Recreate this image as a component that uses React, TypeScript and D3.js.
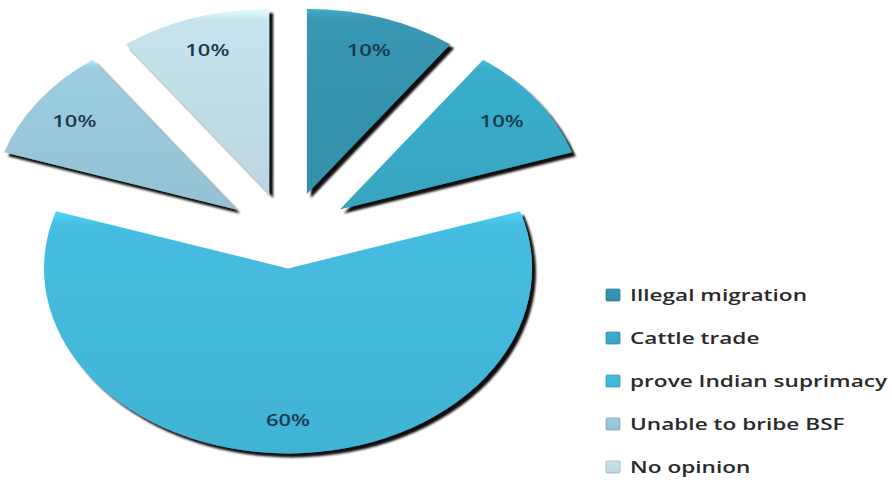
import React from "react";
import * as d3 from "d3";

const categories = ["Illegal migration", "Cattle trade", "prove Indian suprimacy", "Unable to bribe BSF", "No opinion"];
const values = [10, 10, 60, 10, 10];
const labels = ["10%", "10%", "60%", "10%", "10%"];
const colors = ["#3797b3", "#3aaecb", "#45bde0", "#9ccde0", "#c6e3ee"];
const explode = [61, 64, 40, 64, 61];

const W = 892;
const H = 484;
const cx = 288;
const cy = 238;
const rx = 244;
const ry = 185;
const squash = 0.76;
const stretch = 1.33;

export default function App() {
  const pie = d3.pie<number>().sort(null).value((d) => d)(values);
  const arc = d3.arc<d3.PieArcDatum<number>>().innerRadius(0).outerRadius(ry);
  const legendY = d3.scalePoint<string>().domain(categories).range([295, 467]);

  return (
    <svg width={W} height={H} style={{ position: "absolute", left: 0, top: 0, background: "#fff" }}>
      <defs>
        <filter id="shadow" x="-10%" y="-10%" width="125%" height="125%">
          <feOffset in="SourceAlpha" dx="4" dy="4" result="off" />
          <feGaussianBlur in="off" stdDeviation="1.3" result="blur" />
          <feFlood floodColor="#000" floodOpacity="0.95" />
          <feComposite in2="blur" operator="in" result="sh" />
          <feMerge>
            <feMergeNode in="sh" />
            <feMergeNode in="SourceGraphic" />
          </feMerge>
        </filter>
        {colors.map((c, i) => {
          const base = d3.color(c)!;
          return (
            <linearGradient key={i} id={`g${i}`} x1="0" y1="0" x2="0" y2="1">
              <stop offset="0" stopColor={d3.color(c)!.brighter(0.35).formatHex()} />
              <stop offset="0.06" stopColor={base.formatHex()} />
              <stop offset="1" stopColor={d3.color(c)!.darker(0.15).formatHex()} />
            </linearGradient>
          );
        })}
      </defs>
      {pie.map((p, i) => {
        const mid = (p.startAngle + p.endAngle) / 2;
        const dx = explode[i] * Math.sin(mid);
        const dy = -explode[i] * Math.cos(mid) * squash;
        const lr = 0.82 * ry;
        const lx = (rx / ry) * lr * Math.sin(mid);
        const ly = -lr * Math.cos(mid);
        return (
          <g key={i} transform={`translate(${cx + dx},${cy + dy})`}>
            <g filter="url(#shadow)">
              <path d={arc(p) || ""} transform={`scale(${rx / ry},1)`} fill={`url(#g${i})`} />
            </g>
            <g transform={`translate(${lx},${ly}) scale(${stretch},1)`}>
              <text
                textAnchor="middle"
                dominantBaseline="central"
                fontFamily="'Open Sans', sans-serif"
                fontWeight={600}
                fontSize={16.5}
                fill="#1b3a4e"
              >
                {labels[i]}
              </text>
            </g>
          </g>
        );
      })}
      {categories.map((c, i) => {
        const y = legendY(c)!;
        return (
          <g key={c}>
            <rect x={606} y={y - 6} width={14} height={12} rx={1} fill={`url(#g${i})`} stroke={d3.color(colors[i])!.darker(0.8).formatHex()} strokeWidth={0.7} />
            <g transform={`translate(630,${y}) scale(${stretch},1)`}>
              <text dominantBaseline="central" fontFamily="'Open Sans', sans-serif" fontWeight={600} fontSize={17} fill="#2a2a2a">
                {c}
              </text>
            </g>
          </g>
        );
      })}
    </svg>
  );
}
